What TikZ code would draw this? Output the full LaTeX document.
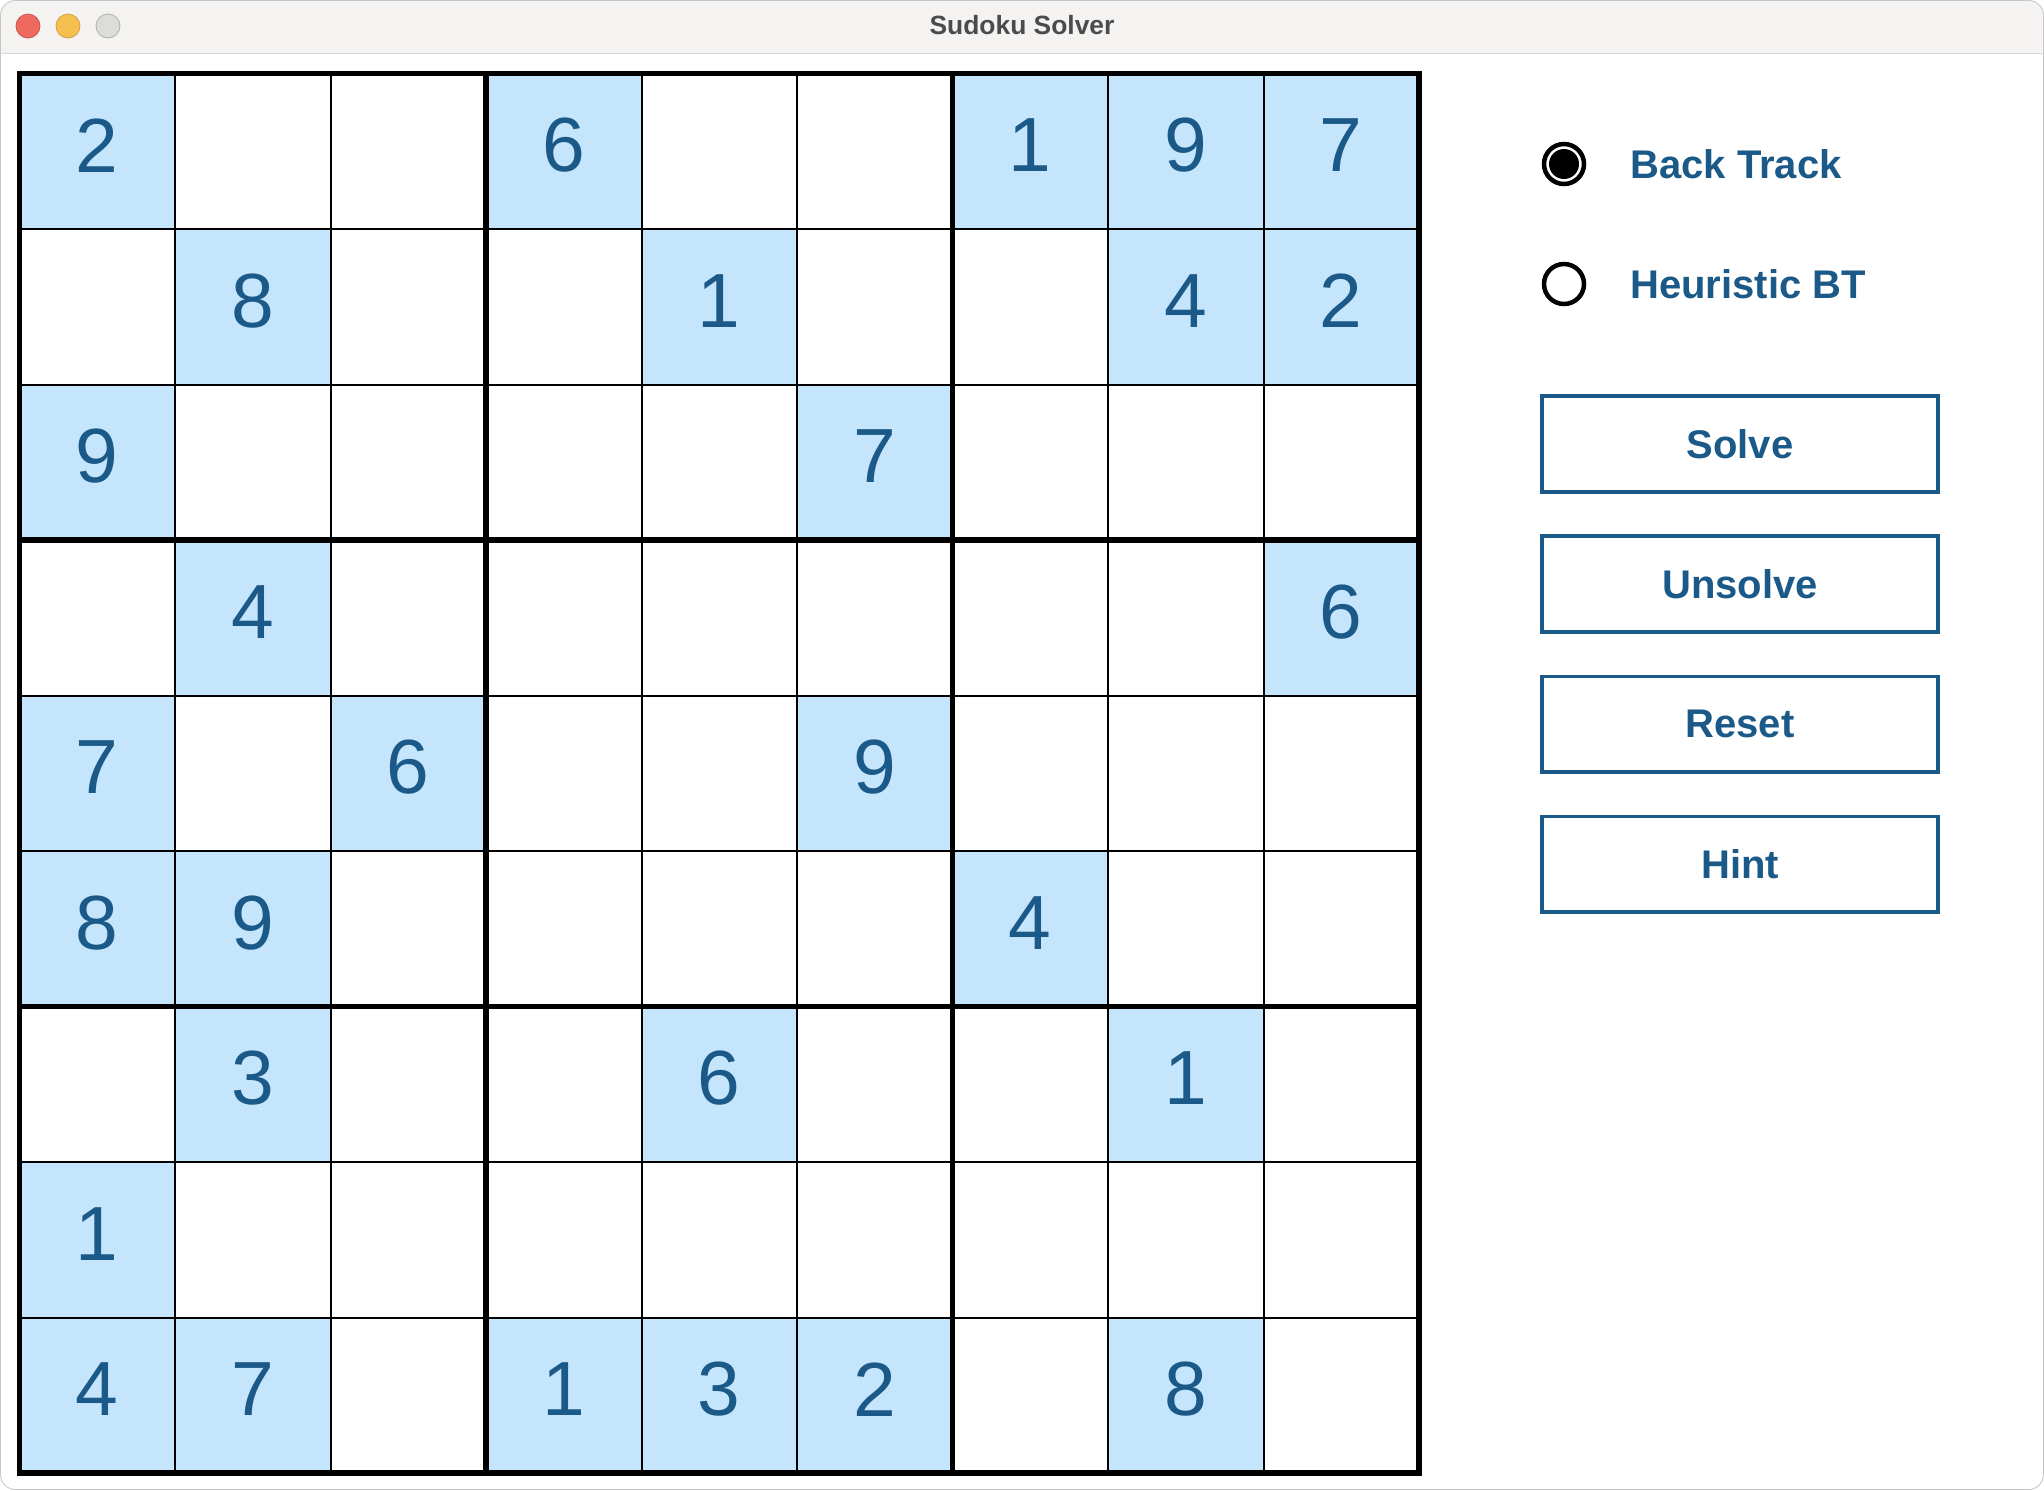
\documentclass[tikz,border=0pt]{standalone}
\usepackage{fontspec}
\setmainfont{Liberation Sans}
\usetikzlibrary{positioning}
\definecolor{cellblue}{HTML}{C5E5FC}
\definecolor{textblue}{HTML}{1B5A88}
\definecolor{barbg}{HTML}{F4F3F1}
\definecolor{barline}{HTML}{D9D9D9}
\definecolor{titlegray}{HTML}{4B4B4B}
\definecolor{winred}{HTML}{EE6A5F}
\definecolor{winyellow}{HTML}{F5BF4F}
\definecolor{wingray}{HTML}{DCDCDA}
\tikzset{
  given/.style={fill=cellblue},
  thinline/.style={line width=1pt},
  thickline/.style={line width=2.75pt},
  digit/.style={text=textblue,inner sep=0pt,font=\fontsize{38.4}{40}\selectfont},
  radio/.style={circle,draw=black,line width=2.25pt,minimum size=20pt,inner sep=0pt},
  radiolabel/.style={anchor=west,inner sep=0pt,text=textblue,font=\fontsize{20}{23}\selectfont\bfseries},
  btn/.style={draw=textblue,line width=1.85pt,outer sep=0pt,minimum width=198pt,minimum height=47.8pt,
    text=textblue,font=\fontsize{20}{23}\selectfont\bfseries},
  light/.style={circle,minimum size=12pt,inner sep=0pt,line width=0.4pt}
}
\begin{document}
\begin{tikzpicture}[x=0.5pt,y=-0.5pt,node distance=22.25pt]
        \useasboundingbox (0,0) rectangle (2044,1490);

        % Draw the window with its title bar
        \begin{scope}
          \clip[rounded corners=7.5pt] (0,0) rectangle (2044,1490);
          \fill[white] (0,0) rectangle (2044,1490);
          \fill[barbg] (0,0) rectangle (2044,53.5);
          \draw[barline,line width=0.6pt] (0,53.5) -- (2044,53.5);
        \end{scope}
        \draw[gray!45,line width=0.4pt,rounded corners=7.5pt] (0.5,0.5) rectangle (2043.5,1489.5);

        % Draw the window buttons and the title
        \node[light,fill=winred,draw=winred!85!black] (close) at (28,26) {};
        \node[light,fill=winyellow,draw=winyellow!85!black] (mini) at (68,26) {};
        \node[light,fill=wingray,draw=wingray!80!black] (zoom) at (108,26) {};
        \node[text=titlegray,font=\fontsize{13.2}{15}\selectfont\bfseries] (title) at (1022,25) {Sudoku Solver};

        % Define the grid
        \def\gx{19.5}
        \def\gy{73.5}
        \def\cs{155.5}

        % Draw the given cells and their digits
        \foreach \r/\c/\v in {0/0/2, 0/3/6, 0/6/1, 0/7/9, 0/8/7,
                              1/1/8, 1/4/1, 1/7/4, 1/8/2,
                              2/0/9, 2/5/7,
                              3/1/4, 3/8/6,
                              4/0/7, 4/2/6, 4/5/9,
                              5/0/8, 5/1/9, 5/6/4,
                              6/1/3, 6/4/6, 6/7/1,
                              7/0/1,
                              8/0/4, 8/1/7, 8/3/1, 8/4/3, 8/5/2, 8/7/8} {
          \fill[given] ({\gx+\cs*\c},{\gy+\cs*\r}) rectangle ++(\cs,\cs);
          \node[digit] (d\r\c) at ({\gx+\cs*(\c+0.5)},{\gy+\cs*(\r+0.5)-6}) {\v};
        }

        % Draw the cell lines
        \foreach \i in {1,2,4,5,7,8} {
          \draw[thinline] ({\gx+\cs*\i},\gy) -- ++(0,{9*\cs});
          \draw[thinline] (\gx,{\gy+\cs*\i}) -- ++({9*\cs},0);
        }

        % Draw the box lines
        \foreach \i in {3,6} {
          \draw[thickline] ({\gx+\cs*\i},\gy) -- ++(0,{9*\cs});
          \draw[thickline] (\gx,{\gy+\cs*\i}) -- ++({9*\cs},0);
        }
        \draw[thickline] (\gx,\gy) rectangle ++({9*\cs},{9*\cs});

        % Draw the radio buttons and their labels
        \node[radio] (rbt) at (1564,164) {};
        \node[circle,fill=black,minimum size=15pt,inner sep=0pt] (rbtdot) at (rbt) {};
        \node[radiolabel] (lbt) at (1630,164) {Back Track};
        \node[radio] (rhb) at (1564,284) {};
        \node[radiolabel] (lhb) at (1630,284) {Heuristic BT};

        % Draw the buttons
        \node[btn] (solve) at (1740,444) {Solve};
        \node[btn,below=of solve] (unsolve) {Unsolve};
        \node[btn,below=of unsolve] (reset) {Reset};
        \node[btn,below=of reset] (hint) {Hint};

    \end{tikzpicture}
\end{document}
